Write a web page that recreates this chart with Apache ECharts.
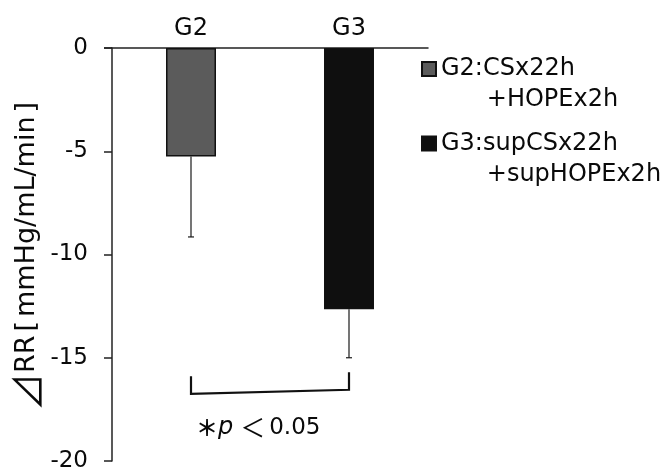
<!DOCTYPE html>
<html><head><meta charset="utf-8">
<script src="https://cdn.jsdelivr.net/npm/echarts@6/dist/echarts.min.js"></script>
<style>html,body{margin:0;padding:0;background:#fff}#c{width:665px;height:474px}</style>
</head><body><div id="c"></div>
<script>
const categories = ['G2', 'G3'];
const seriesNames = ['\nG2:CSx22h\n      +HOPEx2h', '\nG3:supCSx22h\n      +supHOPEx2h'];
const meanValues = [-5.25, -12.65];
const errorLow = [-9.15, -15.0];
const barColors = ['#5b5b5b', '#0f0f0f'];
const yMin = -20, yMax = 0, yInterval = 5;
const yAxisNameRich = '{d|⊿}{r|RR}{b|[}{r|mmHg/mL/min}{b|]}';
const bracketTop = [-15.9, -15.7];
const bracketBottom = [-16.75, -16.55];
const sigLabelValue = -18.4;

const FONT = '"DejaVu Sans", "Noto Sans CJK JP", sans-serif';
const CJK = '"Noto Sans CJK JP", sans-serif';
const INK = '#0a0a0a';
const gridLeft = 112, gridRight = 237, gridTop = 48, gridBottom = 13;

const chart = echarts.init(document.getElementById('c'), null, {renderer: 'canvas'});

const barSeries = categories.map((c, i) => ({
  type: 'bar',
  name: seriesNames[i],
  data: categories.map((_, j) => j === i ? meanValues[i] : null),
  barWidth: 50,
  barGap: '-100%',
  itemStyle: {color: barColors[i], borderColor: '#111', borderWidth: 1.5},
  emphasis: {disabled: true},
  silent: true
}));

const errorSeries = {
  type: 'custom',
  silent: true,
  clip: false,
  data: categories.map((c, i) => [i, meanValues[i], errorLow[i]]),
  encode: {x: 0, y: [1, 2]},
  renderItem: function (params, api) {
    const p1 = api.coord([api.value(0), api.value(1)]);
    const p2 = api.coord([api.value(0), api.value(2)]);
    const cap = 3;
    return {
      type: 'group',
      children: [
        {type: 'line', shape: {x1: p1[0], y1: p1[1], x2: p2[0], y2: p2[1]}, style: {stroke: '#1a1a1a', lineWidth: 1.2}},
        {type: 'line', shape: {x1: p2[0] - cap, y1: p2[1], x2: p2[0] + cap, y2: p2[1]}, style: {stroke: '#1a1a1a', lineWidth: 1.2}}
      ]
    };
  }
};

const bracketSeries = {
  type: 'custom',
  silent: true,
  clip: false,
  data: [[0, 1, bracketTop[0], bracketBottom[0], bracketBottom[1], bracketTop[1], sigLabelValue]],
  encode: {x: [0, 1], y: [2, 3, 4, 5, 6]},
  renderItem: function (params, api) {
    const a = api.coord([api.value(0), api.value(2)]);
    const b = api.coord([api.value(0), api.value(3)]);
    const c = api.coord([api.value(1), api.value(4)]);
    const d = api.coord([api.value(1), api.value(5)]);
    const t = api.coord([api.value(0), api.value(6)]);
    return {
      type: 'group',
      children: [
        {type: 'polyline', shape: {points: [a, b, c, d]}, style: {stroke: '#111', lineWidth: 2.2, fill: null}},
        {type: 'text', style: {
          x: a[0] + 5, y: t[1], align: 'left', verticalAlign: 'middle',
          text: '{s|＊}{p|p}{t|＜}{n|0.05}',
          rich: {
            s: {fontFamily: CJK, fontSize: 22, fontWeight: 'bold', fill: INK},
            p: {fontFamily: FONT, fontSize: 24, fontStyle: 'italic', fill: INK},
            t: {fontFamily: CJK, fontSize: 25, fill: INK, padding: [0, 4, 0, 7]},
            n: {fontFamily: FONT, fontSize: 23, fill: INK}
          }
        }}
      ]
    };
  }
};

const legendBase = {
  orient: 'vertical', padding: 0, left: 421, icon: 'rect',
  itemWidth: 14, itemHeight: 14, selectedMode: false,
  textStyle: {fontSize: 24, fontFamily: FONT, color: INK, lineHeight: 31}
};

chart.setOption({
  animation: false,
  backgroundColor: '#fff',
  grid: {left: gridLeft, right: gridRight, top: gridTop, bottom: gridBottom},
  legend: [
    Object.assign({}, legendBase, {data: [seriesNames[0]], top: 22.5}),
    Object.assign({}, legendBase, {data: [seriesNames[1]], top: 97})
  ],
  xAxis: {
    type: 'category', data: categories, position: 'top',
    axisLine: {show: true, lineStyle: {color: '#222', width: 1.5}},
    axisTick: {show: false},
    axisLabel: {fontSize: 24, fontFamily: FONT, color: INK, margin: 7},
    splitLine: {show: false}
  },
  yAxis: {
    type: 'value', min: yMin, max: yMax, interval: yInterval,
    axisLine: {show: true, lineStyle: {color: '#222', width: 1.5}},
    axisTick: {show: true, length: 8, lineStyle: {color: '#222', width: 1.5}},
    axisLabel: {fontSize: 23, fontFamily: FONT, color: INK, margin: 24},
    splitLine: {show: false},
    name: yAxisNameRich, nameLocation: 'middle', nameGap: 66, nameRotate: 90,
    nameTextStyle: {
      color: INK,
      rich: {
        d: {fontFamily: CJK, fontSize: 38, color: INK},
        r: {fontFamily: FONT, fontSize: 27, color: INK},
        b: {fontFamily: FONT, fontSize: 27, color: INK, padding: [0, 4, 0, 4]}
      }
    }
  },
  series: barSeries.concat([errorSeries, bracketSeries])
});

const zeroY = chart.convertToPixel({yAxisIndex: 0}, 0);
chart.setOption({
  graphic: [{type: 'line', silent: true, shape: {x1: gridLeft - 8, y1: zeroY, x2: gridLeft, y2: zeroY}, style: {stroke: '#222', lineWidth: 1.5}}]
});
</script></body></html>
